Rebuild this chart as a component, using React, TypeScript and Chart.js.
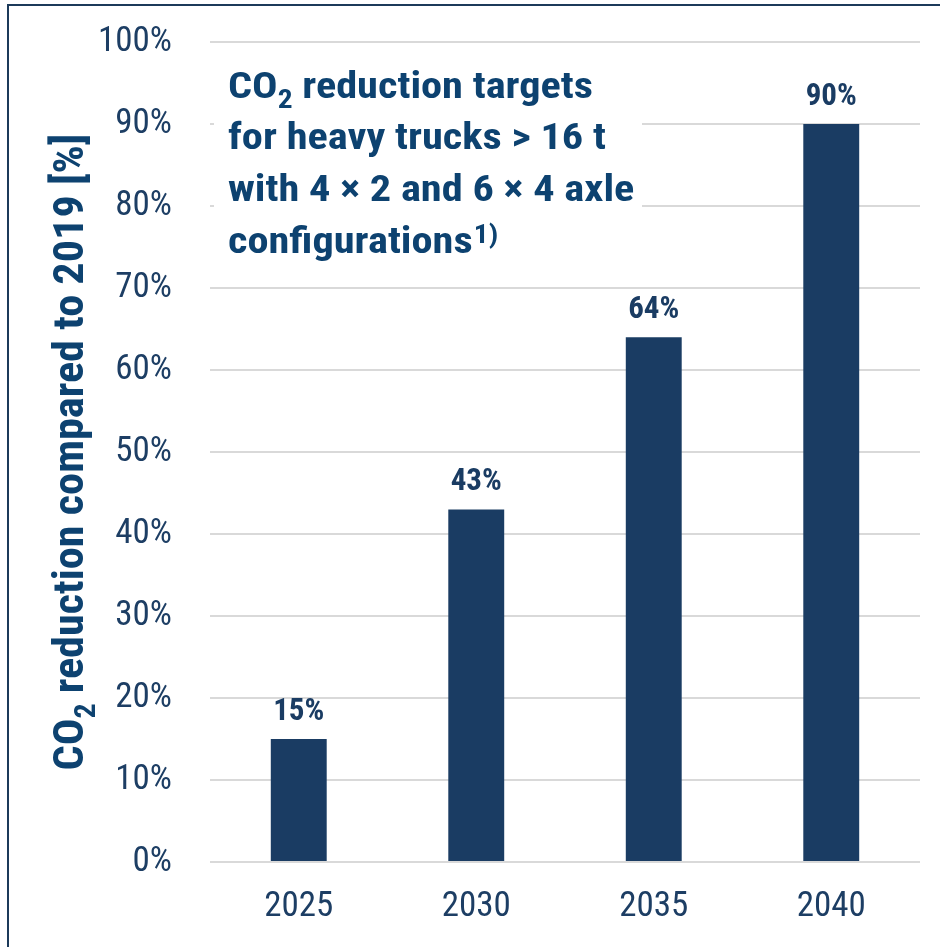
import React, { useEffect, useRef } from "react";
import { Chart, registerables } from "chart.js";

Chart.register(...registerables);

const categories = ["2025", "2030", "2035", "2040"];
const reductionValues = [15, 43, 64, 90];
const yTickMin = 0;
const yTickMax = 100;
const yTickStep = 10;
const yAxisTitleParts = [
  { text: "CO", kind: "normal" },
  { text: "2", kind: "sub" },
  { text: " reduction compared to 2019 [%]", kind: "normal" },
];
const titleLines = [
  [
    { text: "CO", kind: "normal" },
    { text: "2", kind: "sub" },
    { text: " reduction targets", kind: "normal" },
  ],
  [{ text: "for heavy trucks > 16 t", kind: "normal" }],
  [{ text: "with 4 × 2 and 6 × 4 axle", kind: "normal" }],
  [
    { text: "configurations", kind: "normal" },
    { text: "1)", kind: "sup" },
  ],
];

const FONT = "'Liberation Sans Narrow', 'Arial Narrow', 'Roboto Condensed', Roboto, sans-serif";
const BAR_COLOR = "#1a3c63";
const TICK_COLOR = "#1d3e64";
const TITLE_COLOR = "#0d4270";
const GRID_COLOR = "#d9d9d9";

type Part = { text: string; kind: string };

function measureParts(ctx: CanvasRenderingContext2D, parts: Part[], size: number, subSize: number) {
  let w = 0;
  for (const p of parts) {
    ctx.font = `bold ${p.kind === "normal" ? size : subSize}px ${FONT}`;
    w += ctx.measureText(p.text).width;
  }
  return w;
}

function drawParts(
  ctx: CanvasRenderingContext2D,
  parts: Part[],
  x: number,
  y: number,
  size: number,
  subSize: number,
  sx: number
) {
  ctx.save();
  ctx.translate(x, y);
  ctx.scale(sx, 1);
  let cx = 0;
  for (const p of parts) {
    ctx.font = `bold ${p.kind === "normal" ? size : subSize}px ${FONT}`;
    if (p.kind === "normal") {
      ctx.fillText(p.text, cx, 0);
    } else if (p.kind === "sub") {
      ctx.fillText(p.text, cx, size * 0.28);
    } else {
      ctx.fillText(p.text, cx + 1, -size * 0.27);
    }
    cx += ctx.measureText(p.text).width;
  }
  ctx.restore();
}

const annotationsPlugin = {
  id: "annotations",
  beforeDatasetsDraw(chart: any) {
    const { ctx } = chart;
    ctx.save();
    ctx.fillStyle = "#ffffff";
    ctx.fillRect(214, 58, 428, 212);
    ctx.restore();
  },
  afterDatasetsDraw(chart: any) {
    const { ctx, chartArea } = chart;
    ctx.save();
    // data labels
    const meta = chart.getDatasetMeta(0);
    ctx.fillStyle = BAR_COLOR;
    ctx.font = `bold 31px ${FONT}`;
    ctx.textAlign = "center";
    ctx.textBaseline = "alphabetic";
    meta.data.forEach((bar: any, i: number) => {
      ctx.fillText(`${reductionValues[i]}%`, bar.x, bar.y - 19);
    });

    // in-plot title
    ctx.textAlign = "left";
    ctx.fillStyle = TITLE_COLOR;
    const tSize = 36;
    const tSub = 25;
    const firstW = measureParts(ctx, titleLines[0] as Part[], tSize, tSub);
    const tsx = 365 / firstW;
    const baselines = [98, 149, 201, 253];
    titleLines.forEach((line, i) => {
      drawParts(ctx, line as Part[], 228, baselines[i], tSize, tSub, tsx);
    });

    // rotated y-axis title
    const size = 43;
    const sub = 29;
    const w = measureParts(ctx, yAxisTitleParts as Part[], size, sub);
    const ysx = 637 / w;
    const cy = (chartArea.top + chartArea.bottom) / 2;
    ctx.translate(83, cy);
    ctx.rotate(-Math.PI / 2);
    drawParts(ctx, yAxisTitleParts as Part[], -318.5, 0, size, sub, ysx);
    ctx.restore();
  },
};

export default function App() {
  const canvasRef = useRef<HTMLCanvasElement | null>(null);

  useEffect(() => {
    if (!canvasRef.current) return;
    const chart = new Chart(canvasRef.current, {
      type: "bar",
      data: {
        labels: categories,
        datasets: [
          {
            data: reductionValues,
            backgroundColor: BAR_COLOR,
            borderWidth: 0,
            barPercentage: 0.63,
            categoryPercentage: 0.5,
          },
        ],
      },
      options: {
        responsive: false,
        animation: false,
        devicePixelRatio: 1,
        layout: { padding: { top: 42, right: 20, left: 0, bottom: 0 } },
        plugins: {
          legend: { display: false },
          tooltip: { enabled: false },
          title: { display: false },
        },
        scales: {
          x: {
            grid: { display: false, drawTicks: false },
            border: { display: false },
            ticks: {
              color: TICK_COLOR,
              font: { family: FONT, size: 35 },
              padding: 24,
            },
            afterFit: (scale: any) => {
              scale.height = 85;
            },
          },
          y: {
            min: yTickMin,
            max: yTickMax,
            grid: { color: GRID_COLOR, lineWidth: 2, drawTicks: false },
            border: { display: false },
            ticks: {
              stepSize: yTickStep,
              color: TICK_COLOR,
              font: { family: FONT, size: 35 },
              padding: 38,
              callback: (v: any) => `${v}%`,
            },
            afterFit: (scale: any) => {
              scale.width = 210;
              scale.paddingTop = 0;
              scale.paddingBottom = 0;
            },
          },
        },
      },
      plugins: [annotationsPlugin],
    });
    return () => chart.destroy();
  }, []);

  return (
    <div>
      <div
        style={{
          position: "absolute",
          left: 0,
          top: 0,
          width: 940,
          height: 947,
          background: "#ffffff",
        }}
      >
        <canvas ref={canvasRef} width={940} height={947} style={{ display: "block" }} />
      </div>
      <div
        style={{
          position: "absolute",
          left: 7,
          top: 4,
          right: 0,
          bottom: 0,
          borderTop: "2px solid #1c3a5a",
          borderLeft: "2px solid #1c3a5a",
          pointerEvents: "none",
        }}
      />
    </div>
  );
}
